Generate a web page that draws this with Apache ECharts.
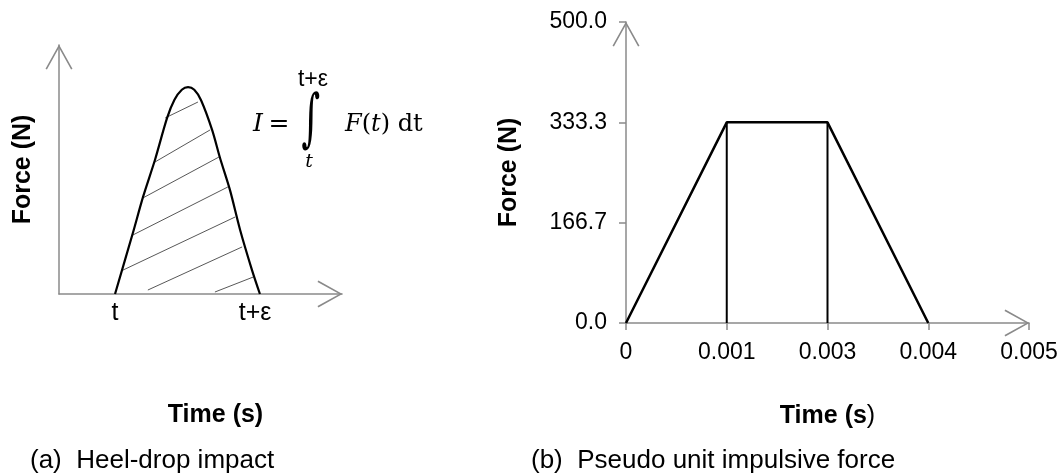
<!DOCTYPE html>
<html>
<head>
<meta charset="utf-8">
<script src="https://cdn.jsdelivr.net/npm/echarts@6/dist/echarts.min.js"></script>
<style>
  html, body { margin: 0; padding: 0; background: #fff; }
  #chart { width: 1062px; height: 475px; }
</style>
</head>
<body>
<div id="chart"></div>
<script>
// (a) heel-drop impact: sketch curve in arbitrary units (0-100 on both axes)
const impactTime = [19.8, 26.1, 29.7, 33.9, 38.2, 40.8, 43.4, 45.6, 47.8, 50.2, 54.1, 56.9, 60.4, 64.0, 68.2, 71.0];
const impactForce = [0, 24.5, 39.0, 53.8, 70.7, 78.0, 82.0, 83.1, 82.0, 77.8, 65.9, 54.6, 41.8, 25.7, 9.6, 0];
// hatch segments inside the curve, [start, end]
const hatchLines = [
  [[37.5, 70.7], [49.1, 77.1]],
  [[33.9, 53.0], [53.4, 65.9]],
  [[29.7, 38.6], [56.5, 55.0]],
  [[26.1, 23.7], [59.7, 43.0]],
  [[22.6, 9.6], [62.2, 30.9]],
  [[31.4, 1.6], [64.7, 18.9]],
  [[55.1, 0.8], [68.6, 6.8]]
];
const impactMarks = [19.8, 69.3];
const impactMarkLabels = ['t', 't+ε'];

// (b) pseudo unit impulsive force
const timeTicks = ['0', '0.001', '0.003', '0.004', '0.005'];
const pulseForce = [0, 333.3, 333.3, 0];
const dividerTimes = ['0.001', '0.003'];
const plateauForce = 333.3;
const forceMax = 500;

const axisGray = '#8a8a8a';
const sans = 'Liberation Sans, Arial, sans-serif';
const serif = 'DejaVu Serif, serif';
// open chevron used for the axis arrows
const arrowPath = 'path://M0,17L9.5,0L19,17L18,17.6L9.5,2.2L1,17.6Z';

const chart = echarts.init(document.getElementById('chart'));

const axisLine = {
  show: true,
  symbol: ['none', arrowPath],
  symbolSize: [28, 25],
  symbolOffset: [0, -12],
  lineStyle: { color: axisGray, width: 1.5 }
};

const option = {
  animation: false,
  backgroundColor: '#fff',
  grid: [
    { left: 59, top: 45, width: 283, height: 249, containLabel: false, outerBoundsMode: 'none' },
    { left: 626, top: 22, width: 403, height: 301, containLabel: false, outerBoundsMode: 'none' }
  ],
  xAxis: [
    {
      gridIndex: 0, type: 'value', min: 0, max: 100,
      axisLine: axisLine,
      axisTick: { show: false },
      splitLine: { show: false },
      axisLabel: {
        customValues: impactMarks,
        margin: 7,
        color: '#000',
        fontFamily: sans,
        fontSize: 25,
        formatter: (v) => impactMarkLabels[impactMarks.indexOf(v)] || ''
      },
      name: 'Time (s)',
      nameLocation: 'middle',
      nameGap: 109,
      nameTextStyle: { color: '#000', fontFamily: sans, fontSize: 25, fontWeight: 'bold', padding: [0, 0, 0, 30] }
    },
    {
      gridIndex: 1, type: 'category', data: timeTicks, boundaryGap: false,
      axisLine: axisLine,
      axisTick: { show: true, length: 7, alignWithLabel: true, lineStyle: { color: axisGray, width: 1.5 } },
      splitLine: { show: false },
      axisLabel: { color: '#000', fontFamily: sans, fontSize: 23, margin: 18, interval: 0 },
      name: '{b|Time (s}{r|)}',
      nameLocation: 'middle',
      nameGap: 81,
      nameTextStyle: {
        color: '#000', fontFamily: sans, fontSize: 25,
        rich: {
          b: { fontFamily: sans, fontSize: 25, fontWeight: 'bold', color: '#000' },
          r: { fontFamily: sans, fontSize: 25, color: '#000' }
        }
      }
    }
  ],
  yAxis: [
    {
      gridIndex: 0, type: 'value', min: 0, max: 100,
      axisLine: axisLine,
      axisTick: { show: false },
      axisLabel: { show: false },
      splitLine: { show: false },
      name: 'Force (N)',
      nameLocation: 'middle',
      nameGap: 23,
      nameTextStyle: { color: '#000', fontFamily: sans, fontSize: 25, fontWeight: 'bold' }
    },
    {
      gridIndex: 1, type: 'value', min: 0, max: forceMax, interval: forceMax / 3,
      axisLine: axisLine,
      axisTick: { show: true, length: 7, lineStyle: { color: axisGray, width: 1.5 } },
      splitLine: { show: false },
      axisLabel: {
        color: '#000', fontFamily: sans, fontSize: 23, margin: 19,
        formatter: (v) => v.toFixed(1)
      },
      name: 'Force (N)',
      nameLocation: 'middle',
      nameGap: 104,
      nameTextStyle: { color: '#000', fontFamily: sans, fontSize: 25, fontWeight: 'bold' }
    }
  ],
  series: [
    {
      type: 'lines',
      coordinateSystem: 'cartesian2d',
      xAxisIndex: 0, yAxisIndex: 0,
      silent: true,
      lineStyle: { color: '#444', width: 0.9, opacity: 1 },
      data: hatchLines.map((seg) => ({ coords: seg }))
    },
    {
      type: 'line',
      xAxisIndex: 0, yAxisIndex: 0,
      smooth: 0.3,
      showSymbol: false,
      lineStyle: { color: '#000', width: 2.2 },
      data: impactTime.map((t, i) => [t, impactForce[i]])
    },
    {
      type: 'line',
      xAxisIndex: 1, yAxisIndex: 1,
      showSymbol: false,
      lineStyle: { color: '#000', width: 2.5 },
      data: pulseForce
    },
    ...dividerTimes.map((t) => ({
      type: 'line',
      xAxisIndex: 1, yAxisIndex: 1,
      showSymbol: false,
      lineStyle: { color: '#000', width: 2 },
      data: [[t, 0], [t, plateauForce]]
    }))
  ],
  graphic: [
    // impulse formula
    { type: 'text', x: 258, y: 124, style: { text: 'I', font: 'italic 25px ' + serif, fill: '#000', textAlign: 'center', textVerticalAlign: 'middle' } },
    { type: 'text', x: 279, y: 124, style: { text: '=', font: '25px ' + serif, fill: '#000', textAlign: 'center', textVerticalAlign: 'middle' } },
    { type: 'text', x: 311, y: 123, scaleY: 1.75, style: { text: '∫', font: '36px ' + serif, fill: '#000', textAlign: 'center', textVerticalAlign: 'middle' } },
    { type: 'text', x: 313, y: 80, style: { text: 't+ε', font: '23px ' + sans, fill: '#000', textAlign: 'center', textVerticalAlign: 'middle' } },
    { type: 'text', x: 309, y: 162, style: { text: 't', font: 'italic 19px ' + serif, fill: '#000', textAlign: 'center', textVerticalAlign: 'middle' } },
    {
      type: 'text', x: 345, y: 125,
      style: {
        text: '{i|F}({i|t}) dt',
        font: '24px ' + serif, fill: '#000', textAlign: 'left', textVerticalAlign: 'middle',
        rich: { i: { font: 'italic 24px ' + serif, fill: '#000' } }
      }
    },
    // panel captions
    { type: 'text', x: 30, y: 461, style: { text: '(a)  Heel-drop impact', font: '26px ' + sans, fill: '#000', textAlign: 'left', textVerticalAlign: 'middle' } },
    { type: 'text', x: 531, y: 461, style: { text: '(b)  Pseudo unit impulsive force', font: '26px ' + sans, fill: '#000', textAlign: 'left', textVerticalAlign: 'middle' } }
  ]
};

chart.setOption(option);
</script>
</body>
</html>
